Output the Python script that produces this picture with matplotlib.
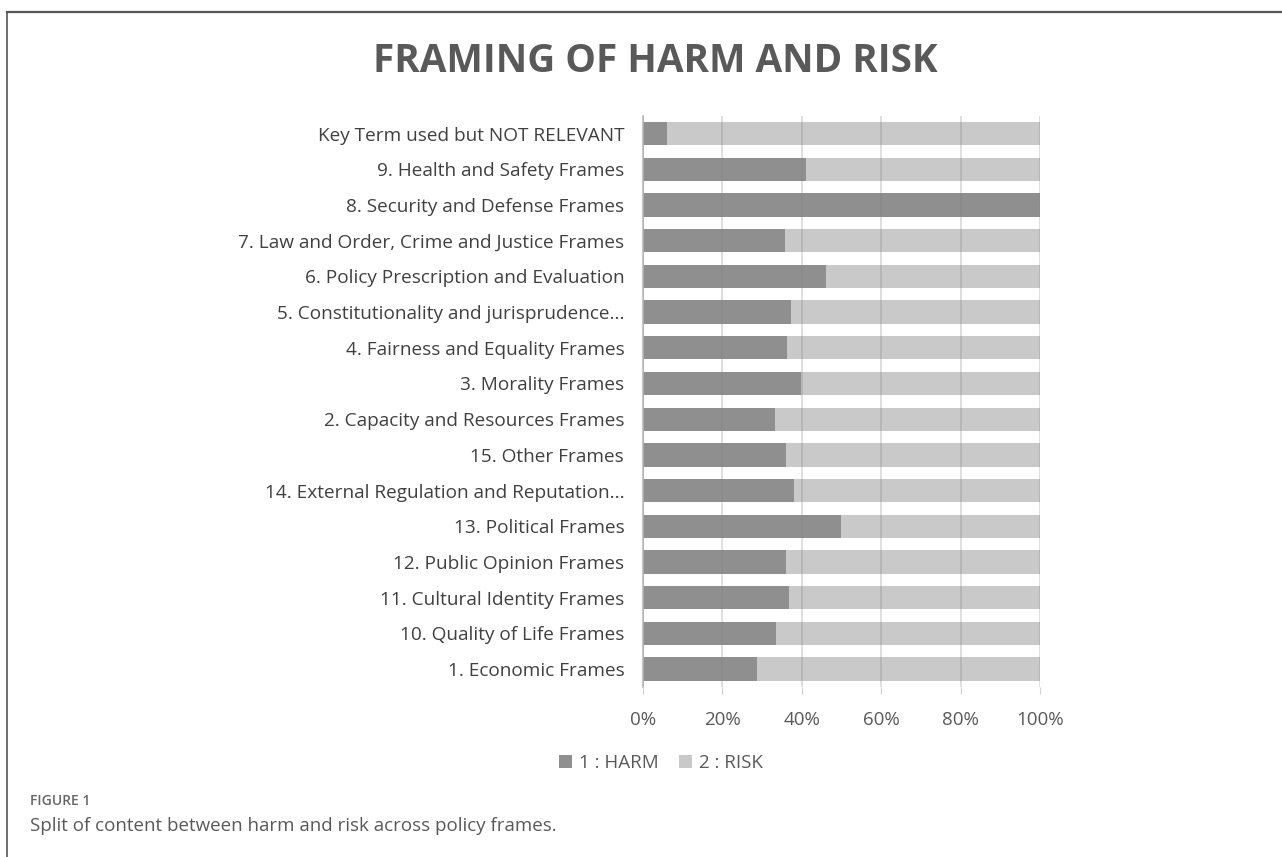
import numpy as np
import matplotlib.pyplot as plt
from matplotlib.lines import Line2D

# Категории (снизу вверх, как в оригинале)
categories = [
    "1. Economic Frames",
    "10. Quality of Life Frames",
    "11. Cultural Identity Frames",
    "12. Public Opinion Frames",
    "13. Political Frames",
    "14. External Regulation and Reputation...",
    "15. Other Frames",
    "2. Capacity and Resources Frames",
    "3. Morality Frames",
    "4. Fairness and Equality Frames",
    "5. Constitutionality and jurisprudence...",
    "6. Policy Prescription and Evaluation",
    "7. Law and Order, Crime and Justice Frames",
    "8. Security and Defense Frames",
    "9. Health and Safety Frames",
    "Key Term used but NOT RELEVANT",
]
# Доля HARM, %
harm = [28.8, 33.4, 36.7, 36.1, 49.8, 38.1, 36.1, 33.2,
        39.9, 36.3, 37.3, 46.0, 35.8, 100.0, 41.0, 6.0]
risk = [100 - h for h in harm]
xticks = [0, 20, 40, 60, 80, 100]

plt.rcParams['font.family'] = ['Open Sans', 'DejaVu Sans']

fig = plt.figure(figsize=(12.82, 8.57), dpi=100)
ax = fig.add_axes([643 / 1282, 1 - 687 / 857, 397 / 1282, (687 - 115.7) / 857])

y = np.arange(len(categories))
ax.barh(y, harm, height=0.655, color='#8f8f8f', label='1 : HARM', zorder=1)
ax.barh(y, risk, left=harm, height=0.655, color='#c9c9c9', label='2 : RISK', zorder=1)

ax.set_xlim(0, 100)
ax.set_ylim(-0.5, len(categories) - 0.5)
ax.set_yticks(y)
ax.set_yticklabels(categories, fontsize=13.7, color='#404040')
ax.set_xticks(xticks)
ax.set_xticklabels([f"{t}%" for t in xticks], fontsize=13.5, color='#595959')
ax.tick_params(axis='y', length=0, pad=13.5)
ax.tick_params(axis='x', length=5, color='#d0d0d0', pad=12)

# Сетка поверх столбцов (полупрозрачная)
ax.grid(axis='x', color='#808080', alpha=0.3, linewidth=1.2, zorder=3)
ax.set_axisbelow(False)
for s in ['top', 'right', 'bottom']:
    ax.spines[s].set_visible(False)
ax.spines['left'].set_color('#bfbfbf')
ax.spines['left'].set_linewidth(1.3)

# Заголовок
fig.text(655 / 1282, 1 - 62 / 857, "FRAMING OF HARM AND RISK", ha='center', va='center',
         fontsize=27.8, fontweight='bold', color='#595959')

# Легенда
fig.legend(loc='center', bbox_to_anchor=(661 / 1282, 1 - 763 / 857), ncol=2, frameon=False,
           fontsize=13.5, handlelength=0.7, handleheight=0.7, handletextpad=0.35,
           columnspacing=1.1, labelcolor='#595959')

# Подпись рисунка
fig.text(30 / 1282, 1 - 801 / 857, "FIGURE 1", ha='left', va='center',
         fontsize=10, fontweight='semibold', color='#666666')
fig.text(30 / 1282, 1 - 826 / 857, "Split of content between harm and risk across policy frames.",
         ha='left', va='center', fontsize=13.5, color='#595959')

# Рамка
fig.add_artist(Line2D([7 / 1282, 1], [1 - 12 / 857, 1 - 12 / 857], color='#555555', lw=1.6))
fig.add_artist(Line2D([7 / 1282, 7 / 1282], [0, 1 - 12 / 857], color='#555555', lw=1.2))

plt.savefig('out.png', dpi=100)
